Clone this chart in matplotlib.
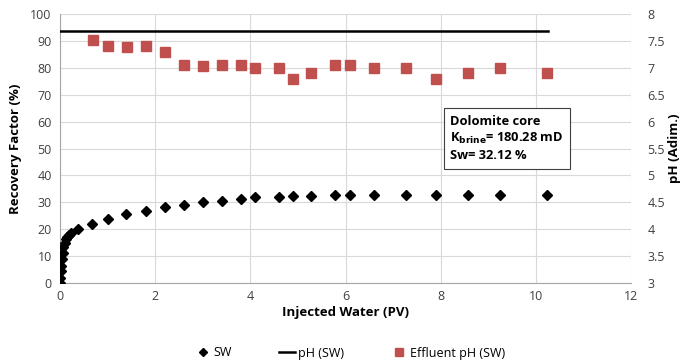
import matplotlib
matplotlib.use("Agg")
import matplotlib.pyplot as plt
from matplotlib.lines import Line2D

plt.rcParams['font.family'] = ['Open Sans', 'DejaVu Sans']

# SW recovery factor data
sw_x = [0.0, 0.01, 0.02, 0.03, 0.04, 0.06, 0.07, 0.10, 0.12, 0.15, 0.19, 0.24,
        0.37, 0.68, 1.0, 1.39, 1.8, 2.2, 2.6, 3.0, 3.4, 3.8, 4.1, 4.6, 4.9,
        5.27, 5.77, 6.1, 6.6, 7.27, 7.9, 8.57, 9.24, 10.23]
sw_y = [0.0, 2.0, 4.3, 6.5, 8.8, 11.0, 13.3, 14.8, 16.3, 17.0, 17.8, 18.5,
        19.9, 22.1, 23.8, 25.5, 26.6, 28.2, 29.0, 30.0, 30.6, 31.2, 31.8, 32.1, 32.3,
        32.5, 32.6, 32.6, 32.6, 32.6, 32.6, 32.6, 32.6, 32.6]

# pH of injected SW
ph_line_x = [0.0, 10.25]
ph_line_y = [7.68, 7.68]

# Effluent pH
eff_x = [0.69, 1.0, 1.4, 1.8, 2.2, 2.6, 3.0, 3.4, 3.8, 4.1, 4.6, 4.9, 5.27,
         5.77, 6.1, 6.6, 7.27, 7.9, 8.57, 9.24, 10.23]
eff_y = [7.52, 7.40, 7.38, 7.40, 7.30, 7.05, 7.03, 7.05, 7.05, 7.00, 7.00, 6.80, 6.90,
         7.05, 7.05, 7.00, 7.00, 6.80, 6.90, 7.00, 6.90]

fig = plt.figure(figsize=(6.86, 3.64), dpi=100)
ax = fig.add_axes([60/686, 1-283/364, (631-60)/686, (283-14)/364])
ax2 = ax.twinx()

grid_c = '#d9d9d9'
ax.set_xlim(0, 12)
ax.set_ylim(0, 100)
ax2.set_ylim(3, 8)
ax.set_xticks(range(0, 13, 2))
ax.set_yticks(range(0, 101, 10))
ax2.set_yticks([3, 3.5, 4, 4.5, 5, 5.5, 6, 6.5, 7, 7.5, 8])
ax2.set_yticklabels(['3', '3.5', '4', '4.5', '5', '5.5', '6', '6.5', '7', '7.5', '8'])
ax.grid(True, color=grid_c, linewidth=0.8)
ax.set_axisbelow(True)
for a in (ax, ax2):
    for s in a.spines.values():
        s.set_visible(False)
    a.tick_params(length=0, labelsize=9, colors='#404040')
ax.spines['left'].set_visible(True)
ax.spines['left'].set_color('#a6a6a6')
ax.spines['bottom'].set_visible(True)
ax.spines['bottom'].set_color('#a6a6a6')
ax.tick_params(axis='y', pad=6)
ax.tick_params(axis='x', pad=5)
ax2.tick_params(axis='y', pad=12)

ax.plot(sw_x, sw_y, linestyle='none', marker='D', markersize=5.5, color='black', zorder=3)
ax2.plot(ph_line_x, ph_line_y, color='black', linewidth=1.8, zorder=3)
ax2.plot(eff_x, eff_y, linestyle='none', marker='s', markersize=6.5, color='#c0504d', zorder=3)

ax.set_xlabel('Injected Water (PV)', fontsize=9.5, fontweight='bold', labelpad=2)
ax.set_ylabel('Recovery Factor (%)', fontsize=9.5, fontweight='bold', labelpad=6)
ax2.set_ylabel('pH (Adim.)', fontsize=9.5, fontweight='bold', labelpad=2)

ax.text(0.683, 0.625,
        'Dolomite core\nK$_{\\mathbf{brine}}$= 180.28 mD\nSw= 32.12 %',
        transform=ax.transAxes, fontsize=9.3, fontweight='bold', va='top', ha='left',
        linespacing=1.3,
        bbox=dict(boxstyle='square,pad=0.5', facecolor='white', edgecolor='#404040', linewidth=0.8),
        zorder=5)

handles = [Line2D([], [], linestyle='none', marker='D', markersize=4.5, color='black'),
           Line2D([], [], color='black', linewidth=1.8),
           Line2D([], [], linestyle='none', marker='s', markersize=6, color='#c0504d')]
fig.legend(handles, ['SW', 'pH (SW)', 'Effluent pH (SW)'], loc='center',
           bbox_to_anchor=(0.51, 1-353/364), ncol=3, frameon=False, fontsize=9,
           handlelength=1.3, handletextpad=0.2, columnspacing=3.8)

fig.savefig('out.png', dpi=100)
